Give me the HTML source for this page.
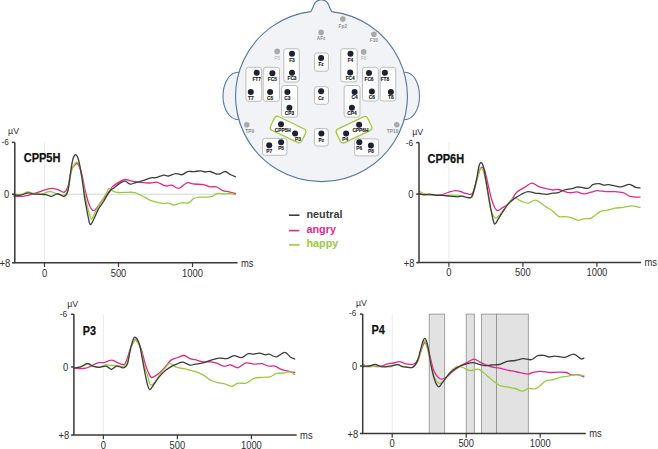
<!DOCTYPE html>
<html><head><meta charset="utf-8"><title>ERP figure</title>
<style>
html,body{margin:0;padding:0;background:#fff;}
body{width:658px;height:449px;overflow:hidden;}
svg{display:block;}
text{font-family:"Liberation Sans",sans-serif;}
.t{font-size:10px;fill:#2e2e2e;}
.lb{font-size:12.6px;font-weight:bold;fill:#111;stroke:#111;stroke-width:0.25px;}
.lg{font-size:10.8px;font-weight:bold;}
.eb{font-size:4.8px;font-weight:bold;fill:#151515;stroke:#151515;stroke-width:0.12px;}
.eg{font-size:4.8px;font-weight:bold;fill:#8f8f8f;}
.el{font-size:4.8px;fill:#adadad;}
</style></head>
<body>
<svg width="658" height="449" viewBox="0 0 658 449">
<rect width="658" height="449" fill="#fff"/>
<path d="M238.9,72.3 C229,71.8 223,84 223,96 C223,108 229,120 239.1,119.8" fill="#f2f3f6" stroke="#5579a3" stroke-width="1.1"/>
<path d="M404.1,72.3 C414.0,71.8 419.5,84 419.5,96 C419.5,108 414.0,120 403.9,119.8" fill="#f2f3f6" stroke="#5579a3" stroke-width="1.1"/>
<path d="M310.8,11.7 C311.1,11.1 312.0,9.5 312.6,8.3 C313.2,7.1 313.6,5.4 314.3,4.2 C315.0,3.0 315.4,2.0 316.6,1.3 C317.8,0.6 319.7,-0.3 321.3,-0.3 C322.9,-0.3 324.8,0.6 326.0,1.3 C327.2,2.0 327.6,3.0 328.3,4.2 C329.0,5.4 329.4,7.1 330.0,8.3 C330.6,9.5 331.4,11.1 331.7,11.6 A85.9,85.3 0 1 1 310.8,11.66 Z" fill="#f2f3f6" stroke="#5579a3" stroke-width="1.15"/>
<rect x="283.8" y="48.7" width="15.5" height="33.4" rx="2.6" fill="#fcfcfc" stroke="#b4b4b4" stroke-width="0.85"/>
<rect x="245.9" y="67.3" width="15.8" height="34.0" rx="2.6" fill="#fcfcfc" stroke="#b4b4b4" stroke-width="0.85"/>
<rect x="263.2" y="67.3" width="16.3" height="34.0" rx="2.6" fill="#fcfcfc" stroke="#b4b4b4" stroke-width="0.85"/>
<rect x="281.6" y="85.5" width="16.0" height="31.7" rx="2.6" fill="#fcfcfc" stroke="#b4b4b4" stroke-width="0.85"/>
<rect x="314.4" y="52.9" width="14.1" height="18.4" rx="2.6" fill="#fcfcfc" stroke="#b4b4b4" stroke-width="0.85"/>
<rect x="314.4" y="86.7" width="14.1" height="17.6" rx="2.6" fill="#fcfcfc" stroke="#b4b4b4" stroke-width="0.85"/>
<rect x="314.4" y="128.5" width="13.9" height="17.6" rx="2.6" fill="#fcfcfc" stroke="#b4b4b4" stroke-width="0.85"/>
<rect x="340.8" y="48.7" width="16.4" height="33.2" rx="2.6" fill="#fcfcfc" stroke="#b4b4b4" stroke-width="0.85"/>
<rect x="362.5" y="67.3" width="15.8" height="33.7" rx="2.6" fill="#fcfcfc" stroke="#b4b4b4" stroke-width="0.85"/>
<rect x="380.1" y="67.3" width="15.7" height="33.7" rx="2.6" fill="#fcfcfc" stroke="#b4b4b4" stroke-width="0.85"/>
<rect x="344.1" y="85.5" width="15.9" height="31.7" rx="2.6" fill="#fcfcfc" stroke="#b4b4b4" stroke-width="0.85"/>
<rect x="262.5" y="138.4" width="24.5" height="16.9" rx="2.6" fill="#fcfcfc" stroke="#b4b4b4" stroke-width="0.85"/>
<rect x="354.6" y="138.8" width="24.0" height="17.1" rx="2.6" fill="#fcfcfc" stroke="#b4b4b4" stroke-width="0.85"/>
<rect x="270.8" y="122.0" width="34.6" height="15.2" rx="3.4" transform="rotate(25.5 288.1 129.6)" fill="#fcfcfc" stroke="#a3c93f" stroke-width="1.3"/>
<rect x="336.7" y="122.1" width="34.6" height="15.2" rx="3.4" transform="rotate(-25.5 354.0 129.7)" fill="#fcfcfc" stroke="#a3c93f" stroke-width="1.3"/>
<circle cx="342.8" cy="19.1" r="2.8" fill="#a9a9a9"/>
<text x="342.8" y="27.7" text-anchor="middle" class="eg">Fp2</text>
<circle cx="321.1" cy="32.4" r="2.8" fill="#a9a9a9"/>
<text x="321.1" y="40.2" text-anchor="middle" class="eg">AFz</text>
<circle cx="373.9" cy="34.2" r="2.8" fill="#a9a9a9"/>
<text x="373.9" y="41.8" text-anchor="middle" class="eg">F10</text>
<circle cx="277.2" cy="51.4" r="2.8" fill="#a9a9a9"/>
<text x="277.2" y="60.4" text-anchor="middle" class="el">F5</text>
<circle cx="363.7" cy="51.9" r="2.8" fill="#a9a9a9"/>
<text x="363.7" y="60.4" text-anchor="middle" class="el">F6</text>
<circle cx="246.8" cy="124.8" r="2.8" fill="#a9a9a9"/>
<text x="249.7" y="132.9" text-anchor="middle" class="eg">TP9</text>
<circle cx="396.8" cy="124.7" r="2.8" fill="#a9a9a9"/>
<text x="392.6" y="133.0" text-anchor="middle" class="eg">TP10</text>
<circle cx="292.0" cy="53.7" r="3.0" fill="#1d2130"/>
<text x="292.0" y="62.2" text-anchor="middle" class="eb">F3</text>
<circle cx="292.0" cy="72.8" r="3.0" fill="#1d2130"/>
<text x="292.0" y="80.4" text-anchor="middle" class="eb">FC3</text>
<circle cx="256.7" cy="72.7" r="3.0" fill="#1d2130"/>
<text x="256.7" y="80.8" text-anchor="middle" class="eb">FT7</text>
<circle cx="250.8" cy="91.9" r="3.0" fill="#1d2130"/>
<text x="250.8" y="99.7" text-anchor="middle" class="eb">T7</text>
<circle cx="272.4" cy="73.2" r="3.0" fill="#1d2130"/>
<text x="272.4" y="80.8" text-anchor="middle" class="eb">FC5</text>
<circle cx="270.1" cy="91.9" r="3.0" fill="#1d2130"/>
<text x="270.1" y="99.7" text-anchor="middle" class="eb">C5</text>
<circle cx="287.4" cy="91.9" r="3.0" fill="#1d2130"/>
<text x="287.4" y="99.7" text-anchor="middle" class="eb">C3</text>
<circle cx="289.4" cy="107.8" r="3.0" fill="#1d2130"/>
<text x="289.4" y="115.4" text-anchor="middle" class="eb">CP3</text>
<circle cx="321.1" cy="57.9" r="3.0" fill="#1d2130"/>
<text x="321.1" y="66.0" text-anchor="middle" class="eb">Fz</text>
<circle cx="321.1" cy="91.3" r="3.0" fill="#1d2130"/>
<text x="321.1" y="99.6" text-anchor="middle" class="eb">Cz</text>
<circle cx="321.4" cy="133.4" r="3.0" fill="#1d2130"/>
<text x="321.4" y="141.9" text-anchor="middle" class="eb">Pz</text>
<circle cx="350.5" cy="53.7" r="3.0" fill="#1d2130"/>
<text x="350.5" y="61.6" text-anchor="middle" class="eb">F4</text>
<circle cx="350.2" cy="72.6" r="3.0" fill="#1d2130"/>
<text x="350.2" y="80.0" text-anchor="middle" class="eb">FC4</text>
<circle cx="369.0" cy="73.0" r="3.0" fill="#1d2130"/>
<text x="369.0" y="80.7" text-anchor="middle" class="eb">FC6</text>
<circle cx="371.9" cy="91.4" r="3.0" fill="#1d2130"/>
<text x="371.9" y="99.1" text-anchor="middle" class="eb">C6</text>
<circle cx="384.9" cy="72.7" r="3.0" fill="#1d2130"/>
<text x="384.9" y="80.7" text-anchor="middle" class="eb">FT8</text>
<circle cx="390.9" cy="91.9" r="3.0" fill="#1d2130"/>
<text x="390.9" y="99.1" text-anchor="middle" class="eb">T8</text>
<circle cx="354.6" cy="91.9" r="3.0" fill="#1d2130"/>
<text x="354.6" y="99.1" text-anchor="middle" class="eb">C4</text>
<circle cx="351.9" cy="107.8" r="3.0" fill="#1d2130"/>
<text x="351.9" y="115.4" text-anchor="middle" class="eb">CP4</text>
<circle cx="281.0" cy="124.3" r="3.0" fill="#1d2130"/>
<text x="282.8" y="132.0" text-anchor="middle" class="eb">CPP5H</text>
<circle cx="295.1" cy="133.6" r="3.0" fill="#1d2130"/>
<text x="298.0" y="141.1" text-anchor="middle" class="eb">P3</text>
<circle cx="359.1" cy="124.7" r="3.0" fill="#1d2130"/>
<text x="360.4" y="132.2" text-anchor="middle" class="eb">CPP6H</text>
<circle cx="346.1" cy="133.6" r="3.0" fill="#1d2130"/>
<text x="345.2" y="141.1" text-anchor="middle" class="eb">P4</text>
<circle cx="269.2" cy="145.2" r="3.0" fill="#1d2130"/>
<text x="269.2" y="153.0" text-anchor="middle" class="eb">P7</text>
<circle cx="281.1" cy="142.2" r="3.0" fill="#1d2130"/>
<text x="281.1" y="149.9" text-anchor="middle" class="eb">P5</text>
<circle cx="359.3" cy="142.2" r="3.0" fill="#1d2130"/>
<text x="359.3" y="149.9" text-anchor="middle" class="eb">P6</text>
<circle cx="370.9" cy="145.5" r="3.0" fill="#1d2130"/>
<text x="370.9" y="153.1" text-anchor="middle" class="eb">P8</text>
<line x1="288.9" y1="215.2" x2="299.5" y2="215.2" stroke="#3d3d3d" stroke-width="1.6"/>
<line x1="288.9" y1="230.6" x2="299.5" y2="230.6" stroke="#e2288c" stroke-width="1.6"/>
<line x1="288.9" y1="244.9" x2="299.5" y2="244.9" stroke="#9acb3c" stroke-width="1.6"/>
<text x="306.5" y="217.8" class="lg" fill="#3d3d3d">neutral</text>
<text x="306.5" y="232.8" class="lg" fill="#e2288c">angry</text>
<text x="306.5" y="247.4" class="lg" fill="#9acb3c">happy</text>
<line x1="44.5" y1="142.4" x2="44.5" y2="262.8" stroke="#ebebeb" stroke-width="1"/>
<line x1="14.8" y1="194.2" x2="235.6" y2="194.2" stroke="#d4d6de" stroke-width="1"/>
<path d="M14.0,196.2 C15.3,196.2 19.8,196.5 22.0,196.4 C24.2,196.3 25.9,195.9 27.4,195.6 C28.9,195.3 29.2,194.9 31.0,194.4 C32.8,193.9 35.5,193.1 38.0,192.3 C40.5,191.5 43.7,190.3 46.0,189.7 C48.3,189.0 50.0,188.4 52.0,188.4 C54.0,188.4 56.7,189.3 58.0,189.7 C59.3,190.1 58.9,190.3 60.0,190.7 C61.1,191.1 63.1,192.8 64.4,192.1 C65.7,191.4 66.8,190.1 68.0,186.3 C69.2,182.5 70.5,173.0 71.6,169.4 C72.7,165.8 73.9,166.0 74.8,165.0 C75.7,164.0 76.3,163.1 77.0,163.3 C77.7,163.6 78.3,164.4 79.2,166.5 C80.1,168.6 81.2,171.8 82.2,176.0 C83.2,180.2 84.3,187.2 85.5,192.0 C86.7,196.8 88.0,201.9 89.3,205.0 C90.6,208.1 92.0,210.3 93.4,210.6 C94.8,210.9 96.0,208.8 97.5,207.0 C99.0,205.2 100.6,202.2 102.7,199.6 C104.8,197.0 108.5,193.7 110.0,191.6 C111.5,189.5 110.5,188.7 112.0,187.1 C113.5,185.5 116.8,183.4 119.0,182.1 C121.2,180.8 122.8,179.7 125.0,179.5 C127.2,179.3 129.5,180.6 132.0,181.1 C134.5,181.6 137.0,182.0 140.0,182.3 C143.0,182.6 147.1,183.0 150.0,183.0 C152.9,183.0 154.8,181.8 157.3,182.3 C159.9,182.8 162.9,185.4 165.3,185.9 C167.7,186.4 169.4,184.8 171.7,185.2 C174.0,185.6 176.4,188.8 178.9,188.4 C181.4,188.0 184.4,183.5 186.9,182.8 C189.4,182.1 191.2,183.7 194.0,184.0 C196.8,184.3 200.9,184.2 203.6,184.7 C206.3,185.2 207.9,186.5 210.0,186.8 C212.1,187.2 214.3,186.2 216.4,186.8 C218.5,187.4 220.7,189.8 222.8,190.6 C224.9,191.4 227.0,191.4 229.1,191.9 C231.2,192.4 234.4,193.2 235.5,193.5" fill="none" stroke="#e2288c" stroke-width="1.3" stroke-linejoin="round" stroke-linecap="round"/>
<path d="M14.0,194.4 C15.1,194.4 18.4,194.8 20.7,194.4 C23.0,194.0 25.6,192.1 28.0,192.0 C30.4,191.9 33.1,193.7 35.4,194.0 C37.7,194.3 39.6,194.4 42.0,194.0 C44.4,193.6 47.5,191.5 50.0,191.5 C52.5,191.5 55.0,193.3 56.7,193.8 C58.4,194.3 58.7,194.1 60.0,194.3 C61.3,194.5 63.1,196.1 64.4,195.2 C65.7,194.3 66.8,192.9 68.0,188.9 C69.2,184.9 70.2,175.5 71.6,171.1 C73.0,166.7 74.9,162.9 76.3,162.3 C77.7,161.7 78.8,163.5 80.0,167.6 C81.2,171.7 82.4,180.8 83.6,187.0 C84.8,193.2 85.9,200.0 87.0,205.0 C88.1,210.0 89.6,214.7 90.4,217.0 C91.2,219.3 91.1,219.6 92.0,218.6 C92.9,217.6 94.1,213.9 95.6,211.2 C97.1,208.5 99.1,205.3 100.9,202.3 C102.7,199.3 105.0,195.7 106.3,193.4 C107.6,191.1 107.9,189.1 109.0,188.7 C110.1,188.3 111.5,190.5 113.0,191.1 C114.5,191.7 115.5,192.3 118.0,192.5 C120.5,192.7 125.2,192.3 128.0,192.3 C130.8,192.3 132.5,192.0 135.0,192.7 C137.5,193.4 140.3,195.1 143.0,196.4 C145.7,197.7 148.6,199.7 151.0,200.7 C153.4,201.7 155.2,201.9 157.3,202.3 C159.4,202.8 161.8,203.3 163.7,203.4 C165.6,203.5 166.8,202.8 168.5,203.1 C170.2,203.4 172.0,205.1 174.1,205.0 C176.2,204.9 178.9,203.2 181.3,202.8 C183.7,202.4 186.4,203.6 188.5,202.8 C190.6,202.1 192.3,199.2 194.0,198.3 C195.7,197.4 196.9,197.4 198.8,197.2 C200.7,197.0 203.1,197.3 205.2,197.2 C207.3,197.1 209.6,197.3 211.6,196.7 C213.6,196.1 215.1,193.9 217.2,193.5 C219.3,193.1 222.2,194.0 224.4,194.0 C226.7,194.0 228.8,193.4 230.7,193.5 C232.5,193.6 234.7,194.6 235.5,194.8" fill="none" stroke="#9acb3c" stroke-width="1.3" stroke-linejoin="round" stroke-linecap="round"/>
<path d="M14.0,195.1 C15.1,195.1 18.4,195.6 20.7,195.2 C23.0,194.8 26.0,193.0 28.0,192.8 C30.0,192.6 30.6,193.5 32.7,193.8 C34.8,194.1 38.5,194.2 40.7,194.4 C42.9,194.6 44.2,194.4 46.0,194.7 C47.8,195.0 49.6,196.6 51.4,196.4 C53.2,196.2 55.3,194.1 56.7,193.8 C58.1,193.5 58.7,194.2 60.0,194.6 C61.3,195.0 63.1,197.1 64.4,196.4 C65.7,195.8 66.9,195.2 68.0,190.7 C69.1,186.2 70.1,174.9 71.0,169.4 C71.9,163.9 72.5,160.2 73.3,157.8 C74.1,155.4 75.1,154.4 76.0,154.8 C76.9,155.2 77.7,156.6 78.7,160.5 C79.7,164.4 81.0,172.0 82.0,178.2 C83.0,184.4 83.7,192.2 84.6,197.8 C85.5,203.4 86.4,207.8 87.2,212.0 C88.0,216.2 88.8,220.7 89.4,222.7 C90.1,224.7 90.4,224.8 91.1,224.2 C91.8,223.6 92.6,221.7 93.8,219.2 C95.0,216.7 96.7,212.4 98.3,209.4 C99.9,206.4 101.6,204.6 103.6,201.4 C105.5,198.2 108.3,192.7 110.0,190.5 C111.7,188.3 112.3,189.2 114.0,188.0 C115.7,186.8 118.2,184.2 120.0,183.1 C121.8,181.9 123.3,180.9 125.0,181.1 C126.7,181.3 128.2,183.9 130.0,184.1 C131.8,184.3 133.8,183.1 136.0,182.5 C138.2,181.9 140.5,181.5 143.0,180.7 C145.5,179.9 148.9,178.4 151.0,177.9 C153.1,177.4 153.6,178.1 155.7,177.6 C157.8,177.1 161.6,175.5 163.7,175.2 C165.8,174.9 166.5,176.3 168.5,176.0 C170.5,175.7 173.4,173.8 175.7,173.6 C177.9,173.4 180.0,175.0 182.0,174.7 C184.0,174.4 185.7,172.1 187.7,171.6 C189.7,171.1 191.9,171.7 194.0,171.6 C196.1,171.5 198.5,170.8 200.4,170.9 C202.3,171.0 203.6,171.9 205.2,172.0 C206.8,172.1 208.1,171.2 210.0,171.5 C211.9,171.8 214.8,173.6 216.4,174.0 C218.0,174.4 218.1,174.4 219.6,174.0 C221.1,173.6 223.3,171.4 225.2,171.5 C227.0,171.6 229.0,173.9 230.7,174.8 C232.4,175.7 234.7,176.5 235.5,176.8" fill="none" stroke="#3d3d3d" stroke-width="1.3" stroke-linejoin="round" stroke-linecap="round"/>
<path d="M14.8,142.4 L14.8,262.8 L237.6,262.8" fill="none" stroke="#383838" stroke-width="1.5"/>
<line x1="12.0" y1="142.4" x2="14.8" y2="142.4" stroke="#383838" stroke-width="1.5"/>
<line x1="12.0" y1="194.2" x2="14.8" y2="194.2" stroke="#383838" stroke-width="1.5"/>
<line x1="12.0" y1="262.8" x2="14.8" y2="262.8" stroke="#383838" stroke-width="1.5"/>
<line x1="44.5" y1="262.8" x2="44.5" y2="267.0" stroke="#383838" stroke-width="1.2"/>
<text transform="translate(44.50 276.50) scale(0.94 1)" text-anchor="middle" class="t">0</text>
<line x1="118.5" y1="262.8" x2="118.5" y2="267.0" stroke="#383838" stroke-width="1.2"/>
<text transform="translate(118.50 276.50) scale(0.94 1)" text-anchor="middle" class="t">500</text>
<line x1="192.5" y1="262.8" x2="192.5" y2="267.0" stroke="#383838" stroke-width="1.2"/>
<text transform="translate(192.50 276.50) scale(0.94 1)" text-anchor="middle" class="t">1000</text>
<text transform="translate(241.00 266.60) scale(0.94 1)" text-anchor="start" class="t">ms</text>
<text transform="translate(8.10 134.00) scale(0.9 1)" class="t" style="font-size:9.7px">&#181;V</text>
<text transform="translate(8.90 145.40) scale(0.94 1)" text-anchor="end" class="t" style="font-size:8.8px">-6</text>
<text transform="translate(9.20 198.30) scale(0.94 1)" text-anchor="end" class="t">0</text>
<text transform="translate(10.20 266.80) scale(0.94 1)" text-anchor="end" class="t">+8</text>
<text x="23.7" y="162.4" class="lb" textLength="36.7" lengthAdjust="spacingAndGlyphs">CPP5H</text>
<line x1="448.9" y1="142.6" x2="448.9" y2="262.6" stroke="#ebebeb" stroke-width="1"/>
<path d="M419.0,194.1 C420.8,194.2 426.8,194.7 429.7,194.8 C432.6,195.0 434.2,195.1 436.4,195.0 C438.6,194.9 441.0,194.8 443.0,194.3 C445.0,193.9 446.3,192.9 448.4,192.3 C450.5,191.7 453.5,190.7 455.5,190.6 C457.5,190.5 458.7,191.1 460.4,191.5 C462.1,191.9 463.8,193.0 465.8,193.3 C467.8,193.6 470.6,195.8 472.5,193.4 C474.4,191.0 475.7,182.8 477.0,178.7 C478.3,174.6 479.3,170.9 480.2,169.0 C481.1,167.1 481.6,167.0 482.3,167.2 C483.0,167.4 483.7,167.5 484.6,170.0 C485.5,172.5 486.4,177.2 487.5,182.0 C488.6,186.8 490.3,194.7 491.5,199.0 C492.7,203.3 493.9,206.1 494.9,208.0 C495.9,209.9 496.4,210.7 497.6,210.7 C498.8,210.7 500.4,209.0 502.0,208.0 C503.6,207.0 505.7,206.0 507.4,204.5 C509.1,203.0 510.4,201.3 512.0,199.2 C513.6,197.1 514.8,194.1 517.0,192.1 C519.2,190.1 522.5,188.6 525.0,187.1 C527.5,185.6 529.7,183.2 532.0,183.1 C534.3,183.0 536.6,185.8 539.0,186.7 C541.4,187.6 544.1,188.1 546.4,188.7 C548.7,189.2 550.8,189.9 552.8,190.0 C554.8,190.1 555.6,189.1 558.4,189.5 C561.2,189.9 566.5,192.3 569.5,192.7 C572.5,193.1 574.3,191.7 576.7,191.9 C579.1,192.1 581.5,193.8 583.9,193.8 C586.3,193.9 588.8,192.7 591.0,192.2 C593.2,191.7 595.0,190.7 597.4,190.6 C599.8,190.5 602.7,191.4 605.4,191.6 C608.1,191.8 610.5,191.4 613.4,191.6 C616.3,191.8 620.2,191.9 623.0,192.7 C625.8,193.5 627.4,195.7 630.2,196.4 C633.0,197.2 638.4,197.1 640.0,197.2" fill="none" stroke="#e2288c" stroke-width="1.3" stroke-linejoin="round" stroke-linecap="round"/>
<path d="M419.0,190.7 C419.7,191.1 421.2,192.7 423.0,193.4 C424.8,194.1 426.4,194.5 429.7,194.8 C433.0,195.1 439.7,195.3 443.0,195.4 C446.3,195.5 447.2,195.2 449.7,195.2 C452.1,195.2 455.2,194.9 457.7,195.2 C460.1,195.5 462.4,196.4 464.4,196.8 C466.3,197.2 468.0,197.9 469.4,197.8 C470.8,197.7 471.5,198.9 472.7,196.0 C473.9,193.1 475.7,184.8 476.8,180.5 C477.9,176.2 478.8,172.6 479.5,170.5 C480.2,168.4 480.6,168.1 481.2,168.2 C481.8,168.3 482.6,169.0 483.3,171.0 C484.0,173.0 484.7,175.8 485.5,180.0 C486.3,184.2 487.3,191.2 488.3,196.5 C489.3,201.8 490.3,208.0 491.4,211.6 C492.5,215.2 493.9,216.9 494.9,217.8 C495.9,218.7 496.3,218.2 497.6,217.0 C498.9,215.8 501.0,213.2 502.9,210.7 C504.8,208.2 507.0,204.2 509.0,202.1 C511.0,200.0 513.0,198.3 515.0,198.1 C517.0,197.9 518.8,200.3 521.0,201.1 C523.2,201.9 525.7,203.3 528.0,203.1 C530.3,202.9 533.0,200.2 535.0,200.1 C537.0,200.0 538.1,201.1 540.0,202.3 C541.9,203.5 544.3,205.7 546.4,207.1 C548.5,208.5 550.7,209.4 552.8,211.0 C554.9,212.6 556.9,215.7 559.0,216.6 C561.1,217.5 563.4,216.4 565.5,216.6 C567.6,216.8 569.8,217.2 571.9,217.8 C574.0,218.4 576.2,220.2 578.3,220.3 C580.4,220.4 582.6,218.9 584.7,218.6 C586.8,218.2 588.4,219.4 591.0,218.2 C593.6,217.0 597.9,212.7 600.6,211.4 C603.3,210.1 604.6,210.8 607.0,210.3 C609.4,209.8 612.3,208.7 615.0,208.2 C617.7,207.7 620.2,207.8 623.0,207.4 C625.8,207.0 629.0,205.8 631.8,205.8 C634.6,205.8 638.6,207.1 640.0,207.4" fill="none" stroke="#9acb3c" stroke-width="1.3" stroke-linejoin="round" stroke-linecap="round"/>
<path d="M419.0,193.4 C419.9,193.6 422.5,194.7 424.3,194.8 C426.1,194.9 427.7,194.0 429.7,194.1 C431.7,194.2 434.2,195.2 436.4,195.4 C438.6,195.6 440.8,195.3 443.0,195.4 C445.2,195.5 447.2,195.9 449.7,196.1 C452.1,196.3 455.6,196.8 457.7,196.8 C459.8,196.8 460.4,196.0 462.0,196.1 C463.6,196.2 465.7,197.3 467.3,197.4 C468.9,197.5 470.4,199.0 471.8,196.5 C473.2,194.0 474.8,187.2 476.0,182.2 C477.2,177.2 478.1,169.8 478.9,166.5 C479.7,163.2 480.2,162.8 480.9,162.7 C481.6,162.6 482.5,163.8 483.2,166.0 C483.9,168.2 484.5,172.0 485.2,176.0 C485.9,180.0 486.7,184.5 487.6,190.0 C488.5,195.5 489.8,203.5 490.8,208.9 C491.8,214.3 492.9,219.9 493.7,222.3 C494.5,224.7 494.7,224.1 495.5,223.5 C496.3,222.9 497.0,221.1 498.5,218.7 C500.0,216.3 502.9,211.5 504.7,208.9 C506.4,206.3 507.3,204.9 509.0,203.1 C510.7,201.3 513.0,199.5 515.0,198.1 C517.0,196.7 518.8,195.6 521.0,194.5 C523.2,193.4 525.7,191.9 528.0,191.7 C530.3,191.5 533.0,192.8 535.0,193.1 C537.0,193.4 538.1,193.3 540.0,193.5 C541.9,193.7 544.3,194.4 546.4,194.3 C548.5,194.2 550.8,193.5 552.8,193.2 C554.8,192.9 556.5,193.2 558.4,192.7 C560.2,192.2 561.6,190.7 563.9,190.0 C566.1,189.3 569.5,189.2 571.9,188.7 C574.3,188.2 575.6,186.9 578.3,186.8 C581.0,186.8 585.5,188.8 587.9,188.4 C590.3,188.1 590.9,185.5 592.7,184.7 C594.6,183.9 597.1,183.5 599.0,183.6 C600.9,183.7 602.2,185.0 603.8,185.2 C605.4,185.4 606.7,184.6 608.6,184.7 C610.5,184.8 612.9,185.6 615.0,185.9 C617.1,186.2 619.0,187.1 621.4,186.8 C623.8,186.5 627.0,184.2 629.4,184.3 C631.8,184.4 633.9,186.8 635.7,187.4 C637.5,188.0 639.3,187.7 640.0,187.8" fill="none" stroke="#3d3d3d" stroke-width="1.3" stroke-linejoin="round" stroke-linecap="round"/>
<path d="M419.0,142.6 L419.0,262.6 L641.0,262.6" fill="none" stroke="#383838" stroke-width="1.5"/>
<line x1="416.2" y1="142.6" x2="419.0" y2="142.6" stroke="#383838" stroke-width="1.5"/>
<line x1="416.2" y1="194.1" x2="419.0" y2="194.1" stroke="#383838" stroke-width="1.5"/>
<line x1="416.2" y1="262.6" x2="419.0" y2="262.6" stroke="#383838" stroke-width="1.5"/>
<line x1="448.9" y1="262.6" x2="448.9" y2="266.8" stroke="#383838" stroke-width="1.2"/>
<text transform="translate(448.90 276.30) scale(0.94 1)" text-anchor="middle" class="t">0</text>
<line x1="522.9" y1="262.6" x2="522.9" y2="266.8" stroke="#383838" stroke-width="1.2"/>
<text transform="translate(522.90 276.30) scale(0.94 1)" text-anchor="middle" class="t">500</text>
<line x1="596.9" y1="262.6" x2="596.9" y2="266.8" stroke="#383838" stroke-width="1.2"/>
<text transform="translate(596.90 276.30) scale(0.94 1)" text-anchor="middle" class="t">1000</text>
<text transform="translate(644.40 266.40) scale(0.94 1)" text-anchor="start" class="t">ms</text>
<text transform="translate(412.30 134.60) scale(0.9 1)" class="t" style="font-size:9.7px">&#181;V</text>
<text transform="translate(413.00 145.70) scale(0.94 1)" text-anchor="end" class="t" style="font-size:8.8px">-6</text>
<text transform="translate(413.40 198.20) scale(0.94 1)" text-anchor="end" class="t">0</text>
<text transform="translate(414.40 266.60) scale(0.94 1)" text-anchor="end" class="t">+8</text>
<text x="427.6" y="162.8" class="lb" textLength="36.5" lengthAdjust="spacingAndGlyphs">CPP6H</text>
<line x1="103.4" y1="314.3" x2="103.4" y2="435.0" stroke="#ebebeb" stroke-width="1"/>
<path d="M74.0,368.2 C74.9,368.3 77.5,368.7 79.5,368.7 C81.5,368.7 84.1,368.6 85.9,368.2 C87.7,367.8 88.4,367.3 90.4,366.4 C92.4,365.5 95.4,363.4 97.7,362.8 C100.0,362.2 101.8,363.0 104.1,362.6 C106.4,362.2 109.3,360.2 111.4,360.2 C113.5,360.1 115.0,361.6 116.8,362.3 C118.6,363.0 120.9,364.1 122.3,364.4 C123.7,364.6 124.2,364.9 125.0,363.8 C125.8,362.8 126.3,361.1 127.4,358.1 C128.5,355.1 130.1,349.0 131.4,346.0 C132.7,343.0 133.9,339.8 135.4,340.0 C136.9,340.2 138.9,343.3 140.6,347.5 C142.3,351.7 144.1,360.5 145.6,365.1 C147.1,369.7 148.5,373.0 149.6,375.1 C150.7,377.2 150.6,377.7 152.0,377.5 C153.4,377.3 155.8,375.8 158.0,374.1 C160.2,372.4 162.8,369.4 165.0,367.1 C167.2,364.8 168.8,361.7 171.0,360.1 C173.2,358.5 175.8,358.3 178.0,357.5 C180.2,356.7 182.0,355.3 184.0,355.5 C186.0,355.7 188.2,358.0 190.0,358.7 C191.8,359.4 192.8,359.2 195.0,359.7 C197.2,360.2 200.3,361.4 203.0,361.8 C205.7,362.2 208.6,361.5 211.0,361.8 C213.4,362.1 215.2,362.7 217.3,363.4 C219.4,364.1 221.4,365.8 223.7,366.1 C226.0,366.4 228.5,364.7 230.9,365.0 C233.3,365.3 235.6,368.1 238.1,367.7 C240.6,367.3 243.4,363.5 246.1,362.9 C248.8,362.3 251.3,364.1 254.0,364.2 C256.6,364.3 259.6,363.4 262.0,363.7 C264.4,364.0 266.3,365.7 268.4,366.1 C270.5,366.5 272.7,365.6 274.8,366.1 C276.9,366.6 279.1,368.5 281.2,369.3 C283.3,370.1 285.2,370.4 287.5,370.9 C289.8,371.4 293.5,372.2 294.7,372.5" fill="none" stroke="#e2288c" stroke-width="1.3" stroke-linejoin="round" stroke-linecap="round"/>
<path d="M74.0,368.1 C75.1,367.9 78.5,367.5 80.7,366.8 C82.9,366.1 85.4,364.2 87.4,364.1 C89.4,364.0 90.7,365.7 92.7,366.1 C94.7,366.6 97.2,367.0 99.4,366.8 C101.6,366.6 104.0,365.0 106.0,364.8 C108.0,364.6 109.6,365.3 111.4,365.4 C113.2,365.5 114.7,365.3 116.7,365.4 C118.7,365.5 121.6,366.8 123.4,366.1 C125.2,365.4 126.1,364.6 127.4,361.4 C128.7,358.2 130.1,350.3 131.4,346.7 C132.7,343.1 133.9,339.9 135.4,340.0 C136.9,340.1 138.7,343.3 140.2,347.5 C141.7,351.7 142.9,360.6 144.2,365.4 C145.4,370.1 146.7,372.9 147.7,376.0 C148.7,379.1 148.9,383.0 150.0,384.2 C151.1,385.4 152.3,384.9 154.0,383.2 C155.7,381.5 158.0,376.8 160.0,374.1 C162.0,371.4 164.3,368.9 166.0,367.1 C167.7,365.3 168.3,363.1 170.0,363.1 C171.7,363.1 173.7,366.2 176.0,367.1 C178.3,368.0 181.7,368.2 184.0,368.7 C186.3,369.2 188.2,369.7 190.0,370.1 C191.8,370.6 192.8,370.6 195.0,371.4 C197.2,372.2 200.3,373.4 203.0,374.9 C205.7,376.4 208.3,379.2 211.0,380.5 C213.7,381.8 216.6,382.3 219.0,382.9 C221.4,383.5 223.2,383.5 225.3,384.1 C227.4,384.7 229.6,386.5 231.7,386.4 C233.8,386.2 235.7,383.7 238.1,383.2 C240.5,382.7 243.4,384.0 246.1,383.2 C248.8,382.4 251.3,379.4 254.0,378.4 C256.6,377.4 259.3,377.6 262.0,377.3 C264.7,377.0 267.6,377.4 270.0,376.8 C272.4,376.2 274.0,374.3 276.4,373.6 C278.8,372.9 282.0,373.1 284.4,372.8 C286.8,372.5 289.0,371.7 290.7,372.0 C292.4,372.3 294.0,374.2 294.7,374.6" fill="none" stroke="#9acb3c" stroke-width="1.3" stroke-linejoin="round" stroke-linecap="round"/>
<path d="M74.0,368.1 C75.1,367.9 78.5,367.6 80.7,366.8 C82.9,366.0 85.4,363.5 87.4,363.4 C89.4,363.3 90.7,365.4 92.7,366.1 C94.7,366.8 97.2,367.4 99.4,367.4 C101.6,367.4 104.0,365.8 106.0,366.1 C108.0,366.4 109.6,369.4 111.4,369.4 C113.2,369.4 114.7,366.4 116.7,366.1 C118.7,365.8 121.6,368.1 123.4,367.8 C125.2,367.5 126.3,366.9 127.4,364.1 C128.5,361.3 129.1,355.1 130.0,351.1 C130.9,347.1 132.1,342.3 133.0,340.0 C133.9,337.7 134.3,336.6 135.4,337.4 C136.5,338.2 138.2,340.1 139.6,345.0 C141.0,349.9 142.5,360.4 143.8,367.1 C145.1,373.8 146.6,381.4 147.6,385.2 C148.6,388.9 148.9,389.8 150.0,389.6 C151.1,389.4 152.5,386.3 154.0,384.2 C155.5,382.1 157.0,379.5 159.0,377.1 C161.0,374.8 163.8,371.9 166.0,370.1 C168.2,368.3 170.0,367.2 172.0,366.1 C174.0,365.0 176.2,364.2 178.0,363.5 C179.8,362.8 181.0,361.8 183.0,362.1 C185.0,362.4 188.0,364.8 190.0,365.1 C192.0,365.5 192.8,364.6 195.0,364.2 C197.2,363.8 200.3,363.6 203.0,362.9 C205.7,362.2 208.3,361.0 211.0,360.2 C213.7,359.4 216.3,358.4 219.0,358.1 C221.7,357.8 224.5,359.0 227.0,358.6 C229.5,358.2 231.6,355.9 234.0,355.7 C236.4,355.5 238.9,358.0 241.3,357.7 C243.7,357.4 246.1,354.3 248.2,353.7 C250.3,353.1 251.8,354.2 253.7,354.1 C255.6,354.0 257.6,353.1 259.6,353.2 C261.6,353.3 263.9,354.6 265.5,354.8 C267.1,355.0 267.4,353.8 269.2,354.1 C271.0,354.5 273.9,357.2 276.5,356.9 C279.1,356.6 282.3,352.2 284.7,352.3 C287.1,352.4 289.0,356.2 290.7,357.3 C292.4,358.4 294.0,358.7 294.7,359.0" fill="none" stroke="#3d3d3d" stroke-width="1.3" stroke-linejoin="round" stroke-linecap="round"/>
<path d="M73.9,314.3 L73.9,435.0 L296.7,435.0" fill="none" stroke="#383838" stroke-width="1.5"/>
<line x1="71.1" y1="314.3" x2="73.9" y2="314.3" stroke="#383838" stroke-width="1.5"/>
<line x1="71.1" y1="366.9" x2="73.9" y2="366.9" stroke="#383838" stroke-width="1.5"/>
<line x1="71.1" y1="435.0" x2="73.9" y2="435.0" stroke="#383838" stroke-width="1.5"/>
<line x1="103.4" y1="435.0" x2="103.4" y2="439.2" stroke="#383838" stroke-width="1.2"/>
<text transform="translate(103.40 448.70) scale(0.94 1)" text-anchor="middle" class="t">0</text>
<line x1="177.4" y1="435.0" x2="177.4" y2="439.2" stroke="#383838" stroke-width="1.2"/>
<text transform="translate(177.40 448.70) scale(0.94 1)" text-anchor="middle" class="t">500</text>
<line x1="251.4" y1="435.0" x2="251.4" y2="439.2" stroke="#383838" stroke-width="1.2"/>
<text transform="translate(251.40 448.70) scale(0.94 1)" text-anchor="middle" class="t">1000</text>
<text transform="translate(300.10 438.80) scale(0.94 1)" text-anchor="start" class="t">ms</text>
<text transform="translate(67.20 307.00) scale(0.9 1)" class="t" style="font-size:9.7px">&#181;V</text>
<text transform="translate(67.20 317.00) scale(0.94 1)" text-anchor="end" class="t" style="font-size:8.8px">-6</text>
<text transform="translate(68.30 371.00) scale(0.94 1)" text-anchor="end" class="t">0</text>
<text transform="translate(69.30 439.00) scale(0.94 1)" text-anchor="end" class="t">+8</text>
<text x="82.8" y="334.5" class="lb" textLength="13.2" lengthAdjust="spacingAndGlyphs">P3</text>
<rect x="429.2" y="314.1" width="15.5" height="119.4" fill="#e2e2e2" stroke="#8c8c8c" stroke-width="0.8"/>
<rect x="466.2" y="314.1" width="8.1" height="119.4" fill="#e2e2e2" stroke="#8c8c8c" stroke-width="0.8"/>
<rect x="481.4" y="314.1" width="15.1" height="119.4" fill="#e2e2e2" stroke="#8c8c8c" stroke-width="0.8"/>
<rect x="496.5" y="314.1" width="31.8" height="119.4" fill="#e2e2e2" stroke="#8c8c8c" stroke-width="0.8"/>
<line x1="392.2" y1="314.1" x2="392.2" y2="433.5" stroke="#ebebeb" stroke-width="1"/>
<path d="M363.0,366.8 C364.1,366.7 367.0,366.1 369.7,366.0 C372.4,365.9 376.1,366.8 379.0,366.5 C381.9,366.2 384.6,364.7 387.0,364.1 C389.4,363.5 391.6,363.4 393.7,363.0 C395.8,362.6 397.7,361.6 399.7,361.7 C401.7,361.8 403.3,363.4 405.7,363.8 C408.1,364.2 411.7,365.0 413.8,364.1 C415.9,363.2 416.9,361.4 418.3,358.5 C419.7,355.6 421.1,349.6 422.3,347.0 C423.5,344.4 424.5,341.6 425.7,342.8 C426.9,344.0 428.0,349.3 429.4,354.0 C430.8,358.7 432.2,367.0 434.0,371.1 C435.8,375.2 438.0,377.7 440.0,378.8 C442.0,379.9 444.0,378.6 446.0,377.5 C448.0,376.4 449.7,374.0 452.0,372.1 C454.3,370.2 457.3,367.8 460.0,366.1 C462.7,364.4 465.7,363.3 468.0,362.1 C470.3,360.9 472.0,359.1 474.0,359.1 C476.0,359.1 478.2,361.2 480.0,362.1 C481.8,363.0 483.1,363.7 485.0,364.5 C486.9,365.3 489.0,366.3 491.4,366.9 C493.8,367.5 496.8,367.7 499.4,368.2 C502.0,368.7 504.4,369.5 507.3,370.1 C510.2,370.7 513.6,371.3 516.9,372.0 C520.2,372.7 524.6,374.0 527.3,374.1 C530.0,374.2 530.6,372.9 532.9,372.5 C535.1,372.1 537.9,371.4 540.8,371.4 C543.7,371.4 547.5,372.4 550.4,372.5 C553.3,372.6 555.7,372.2 558.4,372.2 C561.1,372.2 564.3,372.1 566.4,372.5 C568.5,372.9 569.4,374.5 571.2,374.9 C573.1,375.2 575.4,374.3 577.5,374.6 C579.6,374.9 582.8,376.4 583.9,376.8" fill="none" stroke="#e2288c" stroke-width="1.3" stroke-linejoin="round" stroke-linecap="round"/>
<path d="M363.0,363.4 C363.7,364.0 364.8,366.4 367.0,366.8 C369.2,367.2 372.6,366.1 376.4,366.1 C380.2,366.1 386.4,367.0 389.7,366.8 C393.0,366.6 394.2,364.8 396.4,364.7 C398.6,364.6 400.3,365.7 403.0,366.1 C405.7,366.6 409.9,368.3 412.4,367.4 C414.9,366.5 416.6,364.1 418.2,360.5 C419.8,356.9 421.1,349.2 422.2,346.0 C423.3,342.8 423.7,339.3 424.9,341.0 C426.1,342.7 427.7,350.1 429.2,356.0 C430.7,361.9 432.4,371.6 434.0,376.1 C435.6,380.6 437.3,382.4 439.0,383.2 C440.7,384.0 442.2,382.6 444.0,380.8 C445.8,379.0 447.8,374.5 450.0,372.1 C452.2,369.8 454.8,367.5 457.0,366.7 C459.2,365.9 460.8,366.8 463.0,367.5 C465.2,368.2 467.5,370.4 470.0,370.7 C472.5,371.0 475.7,368.7 478.0,369.1 C480.3,369.5 481.8,371.4 484.0,373.1 C486.2,374.8 488.8,377.4 491.4,379.4 C494.0,381.4 496.8,384.1 499.4,385.3 C502.0,386.6 504.7,386.4 507.3,386.9 C509.9,387.4 512.8,387.8 515.3,388.5 C517.8,389.2 520.4,391.2 522.5,391.2 C524.6,391.2 525.8,388.9 528.1,388.5 C530.4,388.1 533.2,389.8 536.1,388.5 C539.0,387.2 543.0,382.4 545.6,381.0 C548.2,379.6 549.6,380.6 552.0,380.0 C554.4,379.4 557.3,377.9 560.0,377.3 C562.7,376.7 565.6,376.6 568.0,376.2 C570.4,375.8 571.8,374.7 574.4,374.6 C577.0,374.5 582.3,375.5 583.9,375.7" fill="none" stroke="#9acb3c" stroke-width="1.3" stroke-linejoin="round" stroke-linecap="round"/>
<path d="M363.0,366.0 C364.1,366.0 367.7,366.3 369.7,366.0 C371.7,365.7 373.0,364.2 375.0,364.3 C377.0,364.4 379.2,366.5 381.7,366.8 C384.1,367.1 387.0,366.5 389.7,366.1 C392.4,365.8 395.5,364.6 397.7,364.7 C399.9,364.8 400.6,366.4 403.0,366.8 C405.4,367.2 410.1,368.2 412.4,367.4 C414.7,366.6 415.6,364.9 417.0,362.0 C418.4,359.1 419.5,353.4 420.5,350.0 C421.5,346.6 422.1,343.4 422.8,341.5 C423.5,339.6 424.0,338.5 424.6,338.4 C425.2,338.3 425.9,339.2 426.5,341.0 C427.1,342.8 427.6,345.0 428.4,349.0 C429.1,353.0 430.0,360.1 431.0,365.1 C432.0,370.1 433.1,375.6 434.4,379.2 C435.6,382.8 437.2,386.1 438.5,386.8 C439.8,387.5 440.4,385.1 442.0,383.2 C443.6,381.2 446.0,377.4 448.0,375.1 C450.0,372.8 452.0,371.0 454.0,369.5 C456.0,368.0 458.0,367.0 460.0,366.1 C462.0,365.2 463.8,364.7 466.0,364.1 C468.2,363.5 470.7,362.6 473.0,362.7 C475.3,362.8 478.0,364.2 480.0,364.7 C482.0,365.2 483.1,365.6 485.0,365.6 C486.9,365.7 489.0,365.2 491.4,365.0 C493.8,364.8 496.8,365.1 499.4,364.5 C502.0,363.9 504.7,362.0 507.3,361.3 C509.9,360.6 512.6,360.9 515.3,360.5 C518.0,360.1 520.6,358.7 523.3,358.6 C526.0,358.5 528.9,360.2 531.3,359.7 C533.7,359.2 535.6,356.4 537.7,355.7 C539.8,355.0 542.1,355.2 544.0,355.4 C545.9,355.6 546.9,356.9 548.8,357.0 C550.7,357.1 552.5,356.1 555.2,356.2 C557.9,356.2 561.7,357.6 564.8,357.3 C567.9,357.0 571.0,353.9 573.6,354.1 C576.2,354.3 579.0,357.9 580.7,358.6 C582.4,359.3 583.4,358.2 583.9,358.1" fill="none" stroke="#3d3d3d" stroke-width="1.3" stroke-linejoin="round" stroke-linecap="round"/>
<path d="M362.7,314.1 L362.7,433.5 L585.8,433.5" fill="none" stroke="#383838" stroke-width="1.5"/>
<line x1="359.9" y1="314.1" x2="362.7" y2="314.1" stroke="#383838" stroke-width="1.5"/>
<line x1="359.9" y1="366.0" x2="362.7" y2="366.0" stroke="#383838" stroke-width="1.5"/>
<line x1="359.9" y1="433.5" x2="362.7" y2="433.5" stroke="#383838" stroke-width="1.5"/>
<line x1="392.2" y1="433.5" x2="392.2" y2="437.7" stroke="#383838" stroke-width="1.2"/>
<text transform="translate(392.20 447.20) scale(0.94 1)" text-anchor="middle" class="t">0</text>
<line x1="466.2" y1="433.5" x2="466.2" y2="437.7" stroke="#383838" stroke-width="1.2"/>
<text transform="translate(466.20 447.20) scale(0.94 1)" text-anchor="middle" class="t">500</text>
<line x1="540.2" y1="433.5" x2="540.2" y2="437.7" stroke="#383838" stroke-width="1.2"/>
<text transform="translate(540.20 447.20) scale(0.94 1)" text-anchor="middle" class="t">1000</text>
<text transform="translate(589.20 437.30) scale(0.94 1)" text-anchor="start" class="t">ms</text>
<text transform="translate(356.00 305.80) scale(0.9 1)" class="t" style="font-size:9.7px">&#181;V</text>
<text transform="translate(356.40 316.40) scale(0.94 1)" text-anchor="end" class="t" style="font-size:8.8px">-6</text>
<text transform="translate(357.10 370.10) scale(0.94 1)" text-anchor="end" class="t">0</text>
<text transform="translate(358.10 437.50) scale(0.94 1)" text-anchor="end" class="t">+8</text>
<text x="371.5" y="334.0" class="lb" textLength="13.3" lengthAdjust="spacingAndGlyphs">P4</text>
</svg>
</body></html>
